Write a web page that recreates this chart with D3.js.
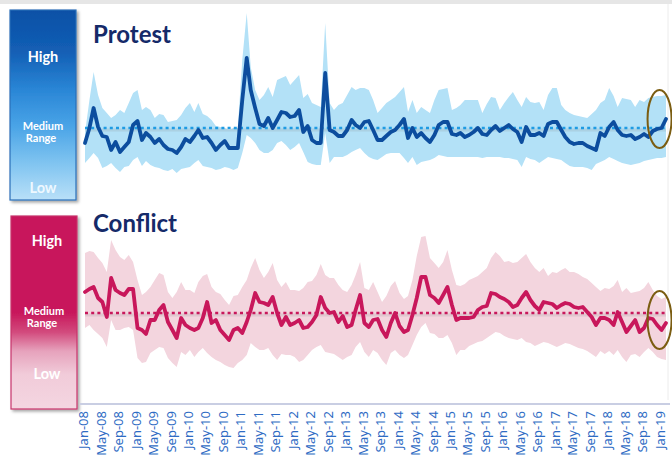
<!DOCTYPE html>
<html><head><meta charset="utf-8">
<script src="https://cdn.jsdelivr.net/npm/d3@7"></script>
<style>
html,body{margin:0;padding:0;background:#fff;}
svg{display:block;}
</style></head>
<body>
<svg id="chart" width="672" height="457"></svg>
<script>
// ---------- DATA (index values, medium range marked by dotted line) ----------
const startMonth = new Date(2008, 0, 1);
const tickLabels = ["Jan-08","May-08","Sep-08","Jan-09","May-09","Sep-09","Jan-10","May-10","Sep-10",
  "Jan-11","May-11","Sep-11","Jan-12","May-12","Sep-12","Jan-13","May-13","Sep-13","Jan-14","May-14",
  "Sep-14","Jan-15","May-15","Sep-15","Jan-16","May-16","Sep-16","Jan-17","May-17","Sep-17","Jan-18",
  "May-18","Sep-18","Jan-19"];

const protestValue = [57,72,92,73,64,63,50,58,48,53,58,75,79,60,67,63,57,61,55,51,50,47,53,61,58,64,70,62,63,57,
  50,55,59,52,52,52,100,142,110,92,76,74,82,72,80,88,87,83,84,90,68,74,60,57,57,127,70,68,64,64,
  70,80,75,72,78,79,70,60,60,64,68,70,75,81,62,72,63,67,62,58,65,75,78,78,66,65,67,63,65,68,
  72,66,65,70,74,69,72,75,71,68,58,73,65,65,67,64,76,78,78,70,63,58,56,57,57,54,52,50,67,64,
  73,78,70,65,64,65,61,63,66,63,69,71,72,81];
const protestHigh = [67,100,128,105,92,87,82,85,90,87,97,107,110,90,93,90,82,86,85,78,79,80,85,92,97,88,97,86,84,80,
  74,73,72,70,72,72,140,187,133,110,100,105,113,103,120,122,124,115,120,125,102,106,97,95,93,177,97,90,95,97,
  105,113,110,112,112,110,100,87,92,97,100,103,108,113,88,100,87,93,90,87,100,110,111,112,90,92,95,100,100,100,
  100,87,96,103,102,90,97,103,108,100,93,103,98,97,98,90,105,112,112,95,90,87,85,84,83,82,86,90,97,100,
  112,104,93,102,101,100,93,100,98,102,103,104,104,105];
const protestLow = [37,42,47,42,32,34,37,32,28,33,34,40,43,34,39,35,33,32,30,29,31,27,31,32,33,37,40,34,33,32,
  30,31,33,32,30,32,47,65,62,57,50,47,47,50,57,59,55,50,53,57,48,38,36,35,35,67,37,43,43,43,
  45,48,50,52,47,43,41,40,43,46,47,47,47,42,37,43,35,38,39,40,42,45,44,43,43,43,43,43,43,43,
  43,42,43,43,43,43,42,42,41,40,33,43,41,40,37,40,43,42,41,40,37,34,33,33,33,32,30,36,38,40,
  43,41,39,37,36,35,36,37,39,40,41,42,42,43];
const protestMedium = 72;

const conflictValue = [108,111,113,102,98,83,122,110,107,105,111,111,72,70,66,80,80,90,95,78,70,62,82,75,72,70,72,82,98,77,
  80,70,65,60,70,72,67,78,90,107,98,97,95,103,87,75,83,75,77,80,72,73,78,85,103,92,87,88,78,84,
  73,75,90,105,77,73,80,81,70,63,77,87,74,68,70,85,102,123,123,105,102,97,105,113,95,80,82,82,82,83,
  90,93,94,107,106,103,101,98,93,95,102,108,100,94,90,98,97,96,92,95,97,96,93,92,93,88,83,75,82,82,
  80,75,88,78,68,74,80,68,72,82,81,75,70,77];
const conflictHigh = [147,149,148,142,137,128,160,150,143,140,145,138,120,105,108,113,120,127,125,108,102,108,118,110,110,107,118,124,126,113,
  108,106,100,95,104,105,113,120,132,142,130,122,128,137,120,113,118,110,110,109,112,118,119,125,136,125,122,122,115,110,
  108,115,125,138,112,110,118,108,98,104,114,119,107,101,104,120,144,163,164,142,137,132,138,150,130,115,114,116,120,122,
  124,128,132,142,148,144,138,139,137,138,142,146,138,132,128,132,124,128,127,130,132,128,128,126,123,121,117,113,109,112,
  111,114,120,108,112,107,108,109,112,118,110,104,101,103];
const conflictLow = [72,75,70,66,62,53,80,70,70,72,73,70,42,37,38,47,50,53,52,42,37,33,48,45,50,43,48,52,47,43,
  40,38,35,33,32,37,40,45,57,53,50,50,52,45,40,46,45,45,43,38,40,45,50,53,55,48,47,46,43,40,
  43,45,53,58,48,43,50,47,40,35,47,50,45,42,45,55,65,73,77,67,66,62,62,65,57,45,50,50,54,56,
  58,59,62,65,68,67,64,62,61,60,62,58,57,54,56,58,57,55,53,55,57,56,54,52,51,49,46,43,49,46,
  49,45,50,43,38,45,46,43,48,52,48,43,41,40];
const conflictMedium = 87;

const legendLabels = ["High", "Medium", "Range", "Low"];

// ---------- DRAW ----------
const svg = d3.select("#chart");
const n = protestValue.length;
const months = d3.range(n).map(i => d3.timeMonth.offset(startMonth, i));
const x = d3.scaleTime().domain([months[0], months[n-1]]).range([85, 666]);

const defs = svg.append("defs");
const gB = defs.append("linearGradient").attr("id","gBlue").attr("x1",0).attr("y1",0).attr("x2",0).attr("y2",1);
[[0,"#0a50a6"],[0.22,"#135fb5"],[0.42,"#2a86d6"],[0.6,"#47a2e6"],[0.8,"#7ec3f0"],[1,"#b9e0f8"]]
  .forEach(([o,c]) => gB.append("stop").attr("offset",o).attr("stop-color",c));
const gP = defs.append("linearGradient").attr("id","gPink").attr("x1",0).attr("y1",0).attr("x2",0).attr("y2",1);
[[0,"#c8175b"],[0.5,"#c8175b"],[0.6,"#d2497c"],[0.7,"#e6a2bc"],[0.82,"#f1cbd9"],[1,"#f4d6e1"]]
  .forEach(([o,c]) => gP.append("stop").attr("offset",o).attr("stop-color",c));
const sh = defs.append("filter").attr("id","shadow").attr("x","-20%").attr("y","-10%").attr("width","150%").attr("height","130%");
sh.append("feDropShadow").attr("dx",2).attr("dy",2).attr("stdDeviation",1.5).attr("flood-color","#000").attr("flood-opacity",0.35);

// top band & right border
svg.append("rect").attr("x",0).attr("y",0).attr("width",672).attr("height",4).attr("fill","#e6e6e6");
svg.append("line").attr("x1",668).attr("x2",668).attr("y1",4).attr("y2",400).attr("stroke","#ececec").attr("stroke-width",1);

function panel(cfg) {
  const y = d3.scaleLinear().domain([0,190]).range([cfg.bottom, cfg.bottom - 190]);
  // legend box
  svg.append("rect").attr("x",cfg.boxX).attr("y",cfg.boxY).attr("width",66).attr("height",cfg.boxH)
    .attr("fill",`url(#${cfg.grad})`).attr("stroke",cfg.boxStroke).attr("stroke-width",1.2)
    .attr("filter","url(#shadow)");
  const cx = cfg.boxX + 33;
  const lab = svg.append("g").attr("fill","#fff").attr("font-family","Lato, 'Open Sans', sans-serif")
    .attr("font-weight","bold").attr("text-anchor","middle");
  lab.append("text").attr("x",cx+cfg.dx).attr("y",cfg.hiY).attr("font-size",14.5).text(legendLabels[0]);
  lab.append("text").attr("x",cx).attr("y",cfg.medY).attr("font-size",11).text(legendLabels[1]);
  lab.append("text").attr("x",cx-2).attr("y",cfg.medY+12).attr("font-size",11).text(legendLabels[2]);
  lab.append("text").attr("x",cx+cfg.dx).attr("y",cfg.loY).attr("font-size",14.5).attr("fill",cfg.lowFill).text(legendLabels[3]);

  // title
  svg.append("text").attr("x",93).attr("y",cfg.titleY).attr("font-family","Lato, sans-serif")
    .attr("font-weight","bold").attr("font-size",24).attr("fill","#152a69").text(cfg.title);

  const area = d3.area().x((d,i)=>x(months[i])).y0((d,i)=>y(cfg.low[i])).y1((d,i)=>y(cfg.high[i]));
  svg.append("path").datum(cfg.value).attr("d",area).attr("fill",cfg.bandColor);

  // medium line with soft shadow
  svg.append("line").attr("x1",x(months[0])).attr("x2",x(months[n-1]))
    .attr("y1",y(cfg.medium)+2).attr("y2",y(cfg.medium)+2)
    .attr("stroke","#888").attr("stroke-opacity",0.18).attr("stroke-width",3);
  svg.append("line").attr("x1",x(months[0])).attr("x2",x(months[n-1]))
    .attr("y1",y(cfg.medium)).attr("y2",y(cfg.medium))
    .attr("stroke",cfg.dotColor).attr("stroke-width",2.6).attr("stroke-dasharray","3,3.2");

  const line = d3.line().x((d,i)=>x(months[i])).y(d=>y(d)).curve(d3.curveLinear);
  svg.append("path").datum(cfg.value).attr("d",line).attr("fill","none")
    .attr("stroke",cfg.lineColor).attr("stroke-width",3.8).attr("stroke-linejoin","round").attr("stroke-linecap","round");

  // highlight ellipse on last months
  const ex = x(months[n-2]) - 2;
  svg.append("ellipse").attr("cx",ex).attr("cy",y(cfg.medium)-cfg.ellOff).attr("rx",12).attr("ry",29)
    .attr("fill","none").attr("stroke","#7b5d12").attr("stroke-width",2);
}

panel({title:"Protest", titleY:43, bottom:200, boxX:10, boxY:10, boxH:190, grad:"gBlue", boxStroke:"#2b6fb8",
  hiY:62, medY:130, loY:193, dx:0, lowFill:"#eef8ff",
  value:protestValue, high:protestHigh, low:protestLow, medium:protestMedium,
  bandColor:"#b3e1f7", dotColor:"#1e9be3", lineColor:"#0c4d9e", ellOff:9});

panel({title:"Conflict", titleY:232, bottom:400, boxX:11, boxY:216, boxH:193, grad:"gPink", boxStroke:"#c7356c",
  hiY:246, medY:315, loY:379, dx:3, lowFill:"#fff",
  value:conflictValue, high:conflictHigh, low:conflictLow, medium:conflictMedium,
  bandColor:"#f3d5de", dotColor:"#c8175b", lineColor:"#c8175b", ellOff:-7});

// x axis
svg.append("line").attr("x1",80).attr("x2",670).attr("y1",404).attr("y2",404).attr("stroke","#c9cee3").attr("stroke-width",2);
const tickDates = tickLabels.map((t,i) => d3.timeMonth.offset(startMonth, i*4));
const axis = d3.axisBottom(x).tickValues(tickDates).tickSize(0).tickFormat((d,i)=>tickLabels[i]);
const ax = svg.append("g").attr("transform","translate(0,404)").call(axis);
ax.select(".domain").remove();
ax.selectAll("text").attr("font-family","'Noto Sans', sans-serif").attr("font-size",13).attr("fill","#2f6cc4")
  .attr("text-anchor","end").attr("transform","rotate(-90)").attr("x",-7).attr("y",-2).attr("dy","0.36em");
</script>
</body></html>
